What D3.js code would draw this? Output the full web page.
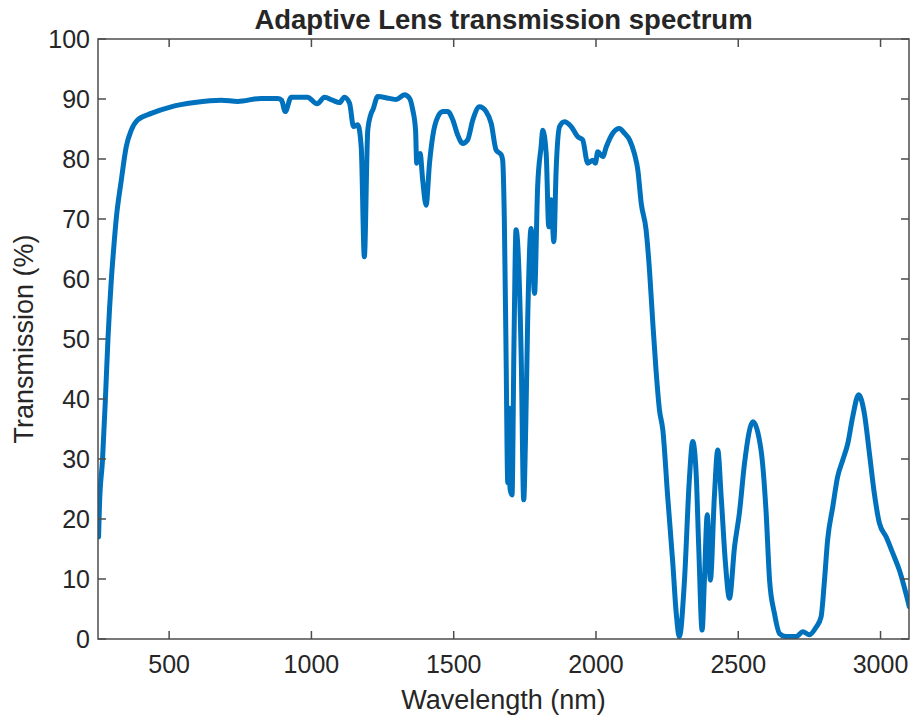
<!DOCTYPE html>
<html>
<head>
<meta charset="utf-8">
<script src="https://cdn.jsdelivr.net/npm/d3@7"></script>
<style>
  body { margin: 0; background: #fff; }
  text { font-family: "Liberation Sans", Arial, sans-serif; fill: #262626; }
</style>
</head>
<body>
<svg id="chart"></svg>
<script>
// Config
const width = 911;
const height = 720;
const margin = { top: 39, right: 2, bottom: 81, left: 98 };

// Data
const wavelength = [
  252, 255, 266, 276, 285, 297, 305, 314, 332, 349, 367, 389, 437, 507, 589, 683, 741, 823, 881, 895,
  908, 929, 986, 1020, 1046, 1074, 1099, 1116, 1134, 1148, 1163, 1175, 1186, 1198, 1210, 1216, 1233,
  1274, 1298, 1327, 1345, 1356, 1366, 1370, 1382, 1391, 1403, 1415, 1426, 1444, 1462, 1479, 1497,
  1514, 1532, 1549, 1567, 1591, 1614, 1632, 1649, 1667, 1672, 1678, 1684, 1690, 1694, 1698, 1705,
  1712, 1719, 1737, 1746, 1753, 1760, 1772, 1784, 1795, 1807, 1813, 1825, 1834, 1842, 1852, 1860,
  1872, 1889, 1913, 1936, 1953, 1971, 1989, 1998, 2006, 2024, 2036, 2059, 2082, 2100, 2118, 2135,
  2147, 2159, 2176, 2188, 2199, 2211, 2223, 2235, 2252, 2270, 2282, 2293, 2311, 2328, 2340, 2352,
  2361, 2373, 2381, 2391, 2402, 2416, 2428, 2440, 2455, 2469, 2487, 2504, 2522, 2551, 2580, 2598,
  2610, 2627, 2645, 2668, 2703, 2727, 2750, 2774, 2791, 2803, 2814, 2832, 2849, 2867, 2885, 2902,
  2923, 2943, 2961, 2978, 2996, 3020, 3043, 3066, 3101
];
const transmission = [
  17, 22, 30, 40, 50, 60, 65, 70, 76.5, 82, 84.8, 86.5, 87.6, 88.7, 89.4, 89.8, 89.6, 90.1, 90.1, 89.8,
  87.9, 90.3, 90.3, 89.2, 90.3, 89.8, 89.4, 90.3, 89.3, 85.4, 85.7, 82, 63.7, 84.8, 87.6, 88.2, 90.4,
  90.1, 89.9, 90.7, 90.1, 88.2, 84.8, 79.3, 80.9, 76.5, 72.3, 79.3, 83.7, 87, 87.9, 87.9, 86.5,
  84, 82.6, 83.2, 86.5, 88.7, 87.9, 85.9, 81.5, 80.7, 79.8, 69.8, 47.6, 26, 38.5, 25, 24,
  50, 68.2, 47.6, 23.2, 35, 53.2, 68.4, 57.6, 75.4, 82, 84.8, 80.9, 68.7, 73.2, 66.2, 78.2,
  85.4, 86.2, 85.4, 83.7, 83.2, 79.3, 79.8, 79.3, 81.2, 80.4, 82, 84.3, 85.1, 84.3, 83.2, 80.9,
  78.2, 72.6, 68.2, 61.5, 53.2, 44.8, 38.2, 34.8, 23.7, 12.6, 4.3, 0.4, 9.8, 26.5, 32.9, 27.6,
  15.4, 1.5, 9.8, 20.7, 9.8, 23.7, 31.5, 23.7, 12.6, 6.8, 15.4, 21, 29.3, 36.2, 31.5, 21,
  9.8, 4.3, 0.9, 0.4, 0.4, 1.2, 0.7, 2, 3.7, 9.8, 16.5, 22, 27, 29.8, 32.6, 37,
  40.7, 37.6, 30.9, 24.3, 19.3, 17, 14.3, 11.5, 5.4
];
const xTicks = [500, 1000, 1500, 2000, 2500, 3000];
const yTicks = [0, 10, 20, 30, 40, 50, 60, 70, 80, 90, 100];

const svg = d3.select("#chart")
  .attr("width", width)
  .attr("height", height);

const x = d3.scaleLinear()
  .domain([250, 3100])
  .range([margin.left, width - margin.right]);

const y = d3.scaleLinear()
  .domain([0, 100])
  .range([height - margin.bottom, margin.top]);

const x0 = margin.left, x1 = width - margin.right;
const y0 = height - margin.bottom, y1 = margin.top;
const tickLen = 8;

// clip
svg.append("clipPath").attr("id", "clip")
  .append("rect")
  .attr("x", x0).attr("y", y1 - 3)
  .attr("width", x1 - x0).attr("height", y0 - y1 + 3);

// Curve
const points = wavelength.map((w, i) => [w, transmission[i]]);
svg.append("path")
  .datum(points)
  .attr("clip-path", "url(#clip)")
  .attr("fill", "none")
  .attr("stroke", "#0072BD")
  .attr("stroke-width", 5)
  .attr("stroke-linejoin", "round")
  .attr("stroke-linecap", "round")
  .attr("d", d3.line().curve(d3.curveMonotoneX).x(d => x(d[0])).y(d => y(d[1])));

// Box
svg.append("rect")
  .attr("x", x0).attr("y", y1)
  .attr("width", x1 - x0).attr("height", y0 - y1)
  .attr("fill", "none")
  .attr("stroke", "#4d4d4d")
  .attr("stroke-width", 1.5);

// Ticks (inward, all four sides)
xTicks.forEach(t => {
  svg.append("line")
    .attr("x1", x(t)).attr("x2", x(t))
    .attr("y1", y0).attr("y2", y0 - tickLen)
    .attr("stroke", "#4d4d4d").attr("stroke-width", 1.5);
  svg.append("line")
    .attr("x1", x(t)).attr("x2", x(t))
    .attr("y1", y1).attr("y2", y1 + tickLen)
    .attr("stroke", "#4d4d4d").attr("stroke-width", 1.5);
  svg.append("text")
    .attr("x", x(t)).attr("y", y0 + 34)
    .attr("text-anchor", "middle")
    .attr("font-size", 25)
    .text(t);
});

yTicks.forEach(t => {
  svg.append("line")
    .attr("x1", x0).attr("x2", x0 + tickLen)
    .attr("y1", y(t)).attr("y2", y(t))
    .attr("stroke", "#4d4d4d").attr("stroke-width", 1.5);
  svg.append("line")
    .attr("x1", x1).attr("x2", x1 - tickLen)
    .attr("y1", y(t)).attr("y2", y(t))
    .attr("stroke", "#4d4d4d").attr("stroke-width", 1.5);
  svg.append("text")
    .attr("x", x0 - 8).attr("y", y(t))
    .attr("dy", "0.36em")
    .attr("text-anchor", "end")
    .attr("font-size", 25)
    .text(t);
});

// Labels
svg.append("text")
  .attr("x", (x0 + x1) / 2).attr("y", 29)
  .attr("text-anchor", "middle")
  .attr("font-size", 27.5)
  .attr("font-weight", "bold")
  .attr("fill", "#000")
  .text("Adaptive Lens transmission spectrum");

svg.append("text")
  .attr("x", (x0 + x1) / 2).attr("y", 709)
  .attr("text-anchor", "middle")
  .attr("font-size", 27)
  .text("Wavelength (nm)");

svg.append("text")
  .attr("transform", `translate(33, ${(y0 + y1) / 2}) rotate(-90)`)
  .attr("text-anchor", "middle")
  .attr("font-size", 27)
  .text("Transmission (%)");
</script>
</body>
</html>
